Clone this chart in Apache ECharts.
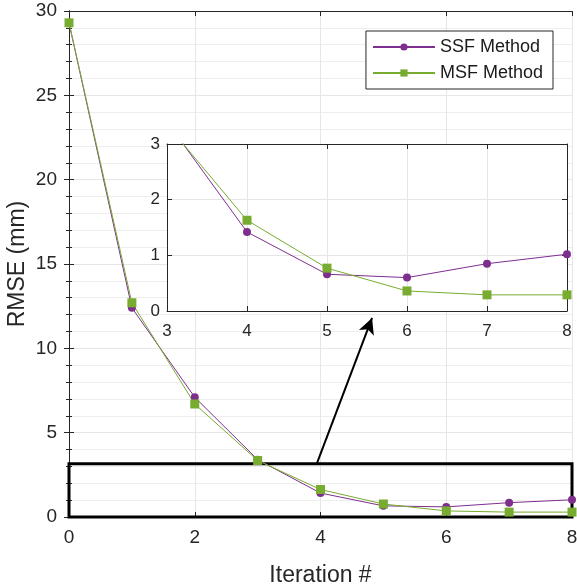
<!DOCTYPE html>
<html>
<head>
<meta charset="utf-8">
<script src="https://cdn.jsdelivr.net/npm/echarts@6/dist/echarts.min.js"></script>
<style>
  html, body { margin: 0; padding: 0; background: #fff; }
  #chart { width: 577px; height: 586px; }
</style>
</head>
<body>
<div id="chart"></div>
<script>
// data
const iterations = [0, 1, 2, 3, 4, 5, 6, 7, 8]
const ssfRmse = [29.3, 12.4, 7.1, 3.4, 1.42, 0.66, 0.6, 0.85, 1.02]
const msfRmse = [29.3, 12.7, 6.7, 3.35, 1.63, 0.77, 0.36, 0.29, 0.29]
const seriesNames = ['SSF Method', 'MSF Method']
// zoom box and arrow, in data units
const zoomBox = [[0, 0], [8, 3.15]]
const arrowLine = [[3.94, 3.15], [4.82, 11.8]]

const purple = '#7E2F8E'
const green = '#77AC30'
const axisColor = '#262626'
const gridColor = '#e6e6e6'
const font = '"Liberation Sans", Arial, sans-serif'

function pairs(ys) {
    return iterations.map((x, i) => [x, ys[i]])
}

function xAxisOf(gridIndex, min, max, interval, labels, position, fontSize, margin) {
    return {
        type: 'value', gridIndex: gridIndex, min: min, max: max, interval: interval,
        position: position,
        axisLine: { show: true, onZero: false, lineStyle: { color: axisColor, width: 1 } },
        axisTick: { show: true, inside: true, length: 5, lineStyle: { color: axisColor } },
        axisLabel: { show: labels, color: axisColor, fontSize: fontSize, fontFamily: font, margin: margin },
        splitLine: { show: position === 'bottom', lineStyle: { color: gridColor } }
    }
}

const chart = echarts.init(document.getElementById('chart'))

const option = {
    backgroundColor: '#fff',
    animation: false,
    grid: [
        { left: 69, right: 5, top: 11, bottom: 69, show: false, containLabel: false, outerBoundsMode: 'none' },
        { left: 167, top: 144, width: 400, height: 167, show: true, backgroundColor: '#fff', borderWidth: 0, z: 5, containLabel: false, outerBoundsMode: 'none' }
    ],
    legend: {
        data: seriesNames,
        orient: 'vertical',
        right: 24,
        top: 31,
        padding: [7, 10, 7, 6],
        itemGap: 8,
        itemWidth: 62,
        itemHeight: 9,
        backgroundColor: '#fff',
        borderColor: axisColor,
        borderWidth: 1,
        borderRadius: 0,
        textStyle: { fontSize: 18, fontFamily: font, color: '#1a1a1a' },
        z: 10
    },
    xAxis: [
        Object.assign(xAxisOf(0, 0, 8, 2, true, 'bottom', 19, 11), {
            name: 'Iteration #', nameLocation: 'middle', nameGap: 47, nameMoveOverlap: false,
            nameTextStyle: { fontSize: 23, fontFamily: font, color: axisColor }
        }),
        xAxisOf(0, 0, 8, 2, false, 'top', 19, 11),
        Object.assign(xAxisOf(1, 3, 8, 1, true, 'bottom', 17, 12), { z: 6 }),
        Object.assign(xAxisOf(1, 3, 8, 1, false, 'top', 17, 12), { z: 6 })
    ],
    yAxis: [
        {
            type: 'value', gridIndex: 0, min: 0, max: 30, interval: 5, position: 'left',
            name: 'RMSE (mm)', nameLocation: 'middle', nameGap: 40, nameMoveOverlap: false,
            nameTextStyle: { fontSize: 23, fontFamily: font, color: axisColor },
            axisLine: { show: true, lineStyle: { color: axisColor } },
            axisTick: { show: true, inside: true, length: 5, lineStyle: { color: axisColor } },
            minorTick: { show: true, splitNumber: 5, length: 3, lineStyle: { color: axisColor } },
            axisLabel: { color: axisColor, fontSize: 19, fontFamily: font, margin: 12 },
            splitLine: { show: true, lineStyle: { color: gridColor } },
            minorSplitLine: { show: true, lineStyle: { color: '#eeeeee' } }
        },
        {
            type: 'value', gridIndex: 0, min: 0, max: 30, interval: 5, position: 'right',
            axisLine: { show: true, lineStyle: { color: axisColor } },
            axisTick: { show: true, inside: true, length: 5, lineStyle: { color: axisColor } },
            minorTick: { show: true, splitNumber: 5, length: 3, lineStyle: { color: axisColor } },
            axisLabel: { show: false },
            splitLine: { show: false }
        },
        {
            type: 'value', gridIndex: 1, min: 0, max: 3, interval: 1, position: 'left', z: 6,
            axisLine: { show: true, lineStyle: { color: axisColor } },
            axisTick: { show: true, inside: true, length: 5, lineStyle: { color: axisColor } },
            axisLabel: { color: axisColor, fontSize: 17, fontFamily: font, margin: 7 },
            splitLine: { show: true, lineStyle: { color: gridColor } }
        },
        {
            type: 'value', gridIndex: 1, min: 0, max: 3, interval: 1, position: 'right', z: 6,
            axisLine: { show: true, lineStyle: { color: axisColor } },
            axisTick: { show: true, inside: true, length: 5, lineStyle: { color: axisColor } },
            axisLabel: { show: false },
            splitLine: { show: false }
        }
    ],
    series: [
        {
            name: seriesNames[0], type: 'line', xAxisIndex: 0, yAxisIndex: 0,
            data: pairs(ssfRmse), symbol: 'circle', symbolSize: 8,
            itemStyle: { color: purple }, lineStyle: { color: purple, width: 1 },
            z: 3,
            markArea: {
                silent: true,
                itemStyle: { color: 'rgba(0,0,0,0)', borderColor: '#000', borderWidth: 3 },
                data: [[{ coord: zoomBox[0] }, { coord: zoomBox[1] }]]
            },
            markLine: {
                silent: true,
                symbol: ['none', 'arrow'],
                symbolSize: [12, 16],
                label: { show: false },
                lineStyle: { color: '#000', width: 2, type: 'solid' },
                data: [[{ coord: arrowLine[0] }, { coord: arrowLine[1] }]]
            }
        },
        {
            name: seriesNames[1], type: 'line', xAxisIndex: 0, yAxisIndex: 0,
            data: pairs(msfRmse), symbol: 'rect', symbolSize: 9,
            itemStyle: { color: green }, lineStyle: { color: green, width: 1 },
            z: 3
        },
        {
            name: seriesNames[0], type: 'line', xAxisIndex: 2, yAxisIndex: 2,
            data: pairs(ssfRmse), symbol: 'circle', symbolSize: 8, clip: true,
            itemStyle: { color: purple }, lineStyle: { color: purple, width: 1 },
            z: 7
        },
        {
            name: seriesNames[1], type: 'line', xAxisIndex: 2, yAxisIndex: 2,
            data: pairs(msfRmse), symbol: 'rect', symbolSize: 9, clip: true,
            itemStyle: { color: green }, lineStyle: { color: green, width: 1 },
            z: 7
        }
    ]
}

option && chart.setOption(option)
window.addEventListener('resize', () => {
    chart.resize()
})
</script>
</body>
</html>
